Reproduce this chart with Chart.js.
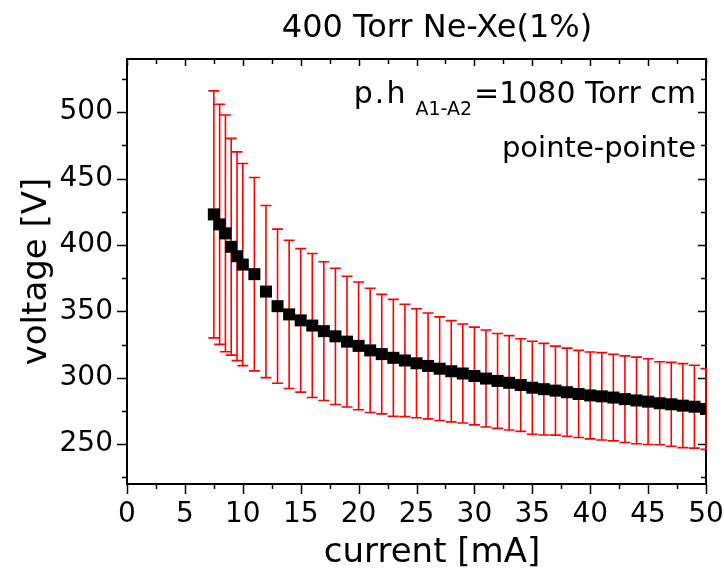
<!DOCTYPE html>
<html>
<head>
<meta charset="utf-8">
<script src="https://cdn.jsdelivr.net/npm/chart.js@4.4.1/dist/chart.umd.min.js"></script>
<style>
  html, body { margin: 0; padding: 0; background: #ffffff; }
  #wrap { width: 724px; height: 577px; }
</style>
</head>
<body>
<div id="wrap"><canvas id="c" width="724" height="577"></canvas></div>
<script>
const titleText = '400 Torr Ne-Xe(1%)';
const xLabel = 'current [mA]';
const yLabel = 'voltage [V]';
const noteMain = 'p.h';
const noteSub = 'A1-A2';
const noteRest = '=1080 Torr cm';
const noteLine2 = 'pointe-pointe';

const current = [7.5, 8, 8.5, 9, 9.5, 10, 11, 12, 13, 14, 15, 16, 17, 18, 19, 20,
  21, 22, 23, 24, 25, 26, 27, 28, 29, 30, 31, 32, 33, 34, 35, 36, 37, 38, 39, 40,
  41, 42, 43, 44, 45, 46, 47, 48, 49, 50];
const voltage = [423.0, 415.5, 408.7, 398.6, 391.5, 385.2, 378.0, 364.9, 353.9, 347.7,
  343.2, 339.3, 335.1, 331.2, 327.2, 324.0, 320.6, 317.8, 315.0, 313.0,
  310.9, 308.9, 306.8, 304.9, 303.2, 301.3, 299.4, 297.6, 296.2, 294.5,
  292.5, 291.4, 290.3, 289.1, 287.8, 286.7, 286.0, 285.1, 283.9, 282.9,
  282.0, 280.8, 280.0, 279.0, 278.2, 276.5];
const voltageErr = [93.0, 90.4, 89.1, 81.6, 78.6, 76.1, 72.8, 64.8, 58.0, 55.8,
  54.0, 54.2, 52.2, 51.3, 49.2, 48.1, 46.8, 45.0, 44.0, 42.3,
  41.0, 39.9, 39.0, 38.1, 37.3, 36.8, 36.5, 35.7, 35.5, 34.9,
  35.0, 34.5, 33.5, 33.2, 32.8, 32.7, 32.9, 32.6, 32.6, 32.6,
  32.3, 31.3, 31.6, 31.6, 31.2, 30.4];

const xTicks = [0, 5, 10, 15, 20, 25, 30, 35, 40, 45, 50];
const yTicks = [250, 300, 350, 400, 450, 500];

const FONT = "'DejaVu Sans', 'Liberation Sans', Arial, sans-serif";

function minorsOf(ticks, lo, hi) {
  const step = ticks[1] - ticks[0];
  const out = [];
  for (let i = 0; i < ticks.length; i++) {
    const a = ticks[i] - step / 2, b = ticks[i] + step / 2;
    if (a >= lo && a <= hi && !out.includes(a)) out.push(a);
    if (b >= lo && b <= hi && !out.includes(b)) out.push(b);
  }
  return out;
}

const framePlugin = {
  id: 'frameAndErrors',
  beforeDatasetsDraw(chart) {
    const { ctx, chartArea: a, scales: { x, y } } = chart;
    ctx.save();
    ctx.strokeStyle = '#000';
    ctx.lineWidth = 2;
    ctx.strokeRect(a.left, a.top, a.right - a.left, a.bottom - a.top);
    ctx.lineWidth = 1.5;
    ctx.beginPath();
    xTicks.forEach(v => {
      const p = Math.round(x.getPixelForValue(v)) + 0.5;
      ctx.moveTo(p, a.bottom); ctx.lineTo(p, a.bottom + 10);
      ctx.moveTo(p, a.top); ctx.lineTo(p, a.top + 7);
    });
    minorsOf(xTicks, x.min, x.max).forEach(v => {
      const p = Math.round(x.getPixelForValue(v)) + 0.5;
      ctx.moveTo(p, a.bottom); ctx.lineTo(p, a.bottom + 5);
      ctx.moveTo(p, a.top); ctx.lineTo(p, a.top + 5);
    });
    yTicks.forEach(v => {
      const p = Math.round(y.getPixelForValue(v)) + 0.5;
      ctx.moveTo(a.left, p); ctx.lineTo(a.left - 10, p);
      ctx.moveTo(a.right, p); ctx.lineTo(a.right - 8, p);
    });
    minorsOf(yTicks, y.min, y.max).forEach(v => {
      const p = Math.round(y.getPixelForValue(v)) + 0.5;
      ctx.moveTo(a.left, p); ctx.lineTo(a.left - 5, p);
      ctx.moveTo(a.right, p); ctx.lineTo(a.right - 5, p);
    });
    ctx.stroke();

    ctx.beginPath();
    ctx.rect(a.left, a.top, a.right - a.left + 1, a.bottom - a.top);
    ctx.clip();
    ctx.strokeStyle = '#ff0000';
    ctx.lineWidth = 1.6;
    ctx.beginPath();
    current.forEach((cx, i) => {
      const px = x.getPixelForValue(cx);
      const top = y.getPixelForValue(voltage[i] + voltageErr[i]);
      const bot = y.getPixelForValue(voltage[i] - voltageErr[i]);
      ctx.moveTo(px, top); ctx.lineTo(px, bot);
      ctx.moveTo(px - 5.5, top); ctx.lineTo(px + 5.5, top);
      ctx.moveTo(px - 5.5, bot); ctx.lineTo(px + 5.5, bot);
    });
    ctx.stroke();
    ctx.restore();
  },
  afterDraw(chart) {
    const { ctx, chartArea: a } = chart;
    ctx.save();
    ctx.fillStyle = '#000';
    ctx.textBaseline = 'alphabetic';
    ctx.font = `32px ${FONT}`;
    ctx.textAlign = 'center';
    ctx.fillText(titleText, 437, 37);
    ctx.font = `34px ${FONT}`;
    ctx.fillText(xLabel, 432, 562);
    ctx.save();
    ctx.translate(46, (a.top + a.bottom) / 2);
    ctx.rotate(-Math.PI / 2);
    ctx.fillText(yLabel, 0, 0);
    ctx.restore();
    ctx.textAlign = 'left';
    const right = a.right - 10;
    ctx.font = `30px ${FONT}`;
    const wRest = ctx.measureText(noteRest).width;
    ctx.letterSpacing = '2px';
    const wMain = ctx.measureText(noteMain).width;
    ctx.letterSpacing = '0px';
    ctx.font = `19px ${FONT}`;
    const wSub = ctx.measureText(noteSub).width;
    const xRest = right - wRest;
    const xSub = xRest - wSub - 2;
    const xMain = xSub - wMain - 8;
    ctx.font = `30px ${FONT}`;
    ctx.letterSpacing = '2px';
    ctx.fillText(noteMain, xMain, 103);
    ctx.letterSpacing = '0px';
    ctx.fillText(noteRest, xRest, 103);
    ctx.font = `19px ${FONT}`;
    ctx.fillText(noteSub, xSub, 115);
    ctx.font = `29px ${FONT}`;
    ctx.textAlign = 'right';
    ctx.fillText(noteLine2, right, 157);
    ctx.restore();
  }
};

new Chart(document.getElementById('c'), {
  type: 'line',
  data: {
    datasets: [{
      data: current.map((cx, i) => ({ x: cx, y: voltage[i] })),
      showLine: false,
      pointStyle: 'rect',
      pointRadius: 8.5,
      pointHoverRadius: 8.5,
      pointBackgroundColor: '#000',
      pointBorderWidth: 0,
      borderColor: '#000',
      clip: 0
    }]
  },
  options: {
    responsive: false,
    animation: false,
    devicePixelRatio: 1,
    layout: { padding: { left: 0, right: 18, top: 59, bottom: 0 } },
    plugins: { legend: { display: false }, tooltip: { enabled: false }, title: { display: false } },
    scales: {
      x: {
        type: 'linear', min: 0, max: 50,
        grid: { display: false, drawTicks: false },
        border: { display: false },
        afterBuildTicks: s => { s.ticks = xTicks.map(v => ({ value: v })); },
        afterFit: s => { s.height = 93; s.paddingLeft = 0; s.paddingRight = 0; },
        ticks: { color: '#000', font: { family: FONT, size: 28 }, padding: 14, maxRotation: 0, autoSkip: false }
      },
      y: {
        type: 'linear', min: 220, max: 540,
        grid: { display: false, drawTicks: false },
        border: { display: false },
        afterBuildTicks: s => { s.ticks = yTicks.map(v => ({ value: v })); },
        afterFit: s => { s.width = 127; s.paddingTop = 0; s.paddingBottom = 0; },
        ticks: { color: '#000', font: { family: FONT, size: 28 }, padding: 14, autoSkip: false }
      }
    }
  },
  plugins: [framePlugin]
});
</script>
</body>
</html>
